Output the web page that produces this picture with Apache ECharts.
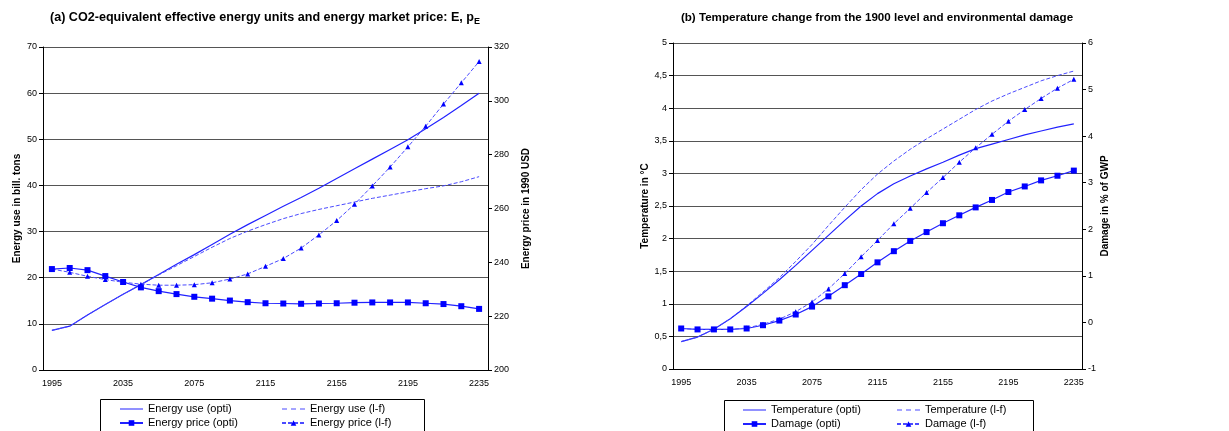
<!DOCTYPE html>
<html>
<head>
<meta charset="utf-8">
<script src="https://cdn.jsdelivr.net/npm/echarts@6/dist/echarts.min.js"></script>
<style>
  html, body { margin: 0; padding: 0; background: #fff; }
  #chart { width: 1229px; height: 431px; }
</style>
</head>
<body>
<div id="chart"></div>
<script>
// Decade steps on the shared time axis
const years = ['1995', '2005', '2015', '2025', '2035', '2045', '2055', '2065', '2075', '2085',
  '2095', '2105', '2115', '2125', '2135', '2145', '2155', '2165', '2175', '2185',
  '2195', '2205', '2215', '2225', '2235'];

// (a) energy use, bill. tons
const energyUseOpti = [8.6, 9.5, 11.9, 14.2, 16.4, 18.5, 20.7, 22.9, 25.0, 27.2,
  29.4, 31.5, 33.5, 35.5, 37.4, 39.4, 41.5, 43.6, 45.7, 47.8,
  49.9, 52.3, 54.7, 57.3, 60.0];
const energyUseLf = [8.6, 9.5, 11.9, 14.2, 16.4, 18.5, 20.6, 22.6, 24.6, 26.6,
  28.5, 30.1, 31.5, 32.8, 33.9, 34.8, 35.6, 36.4, 37.2, 37.9,
  38.6, 39.3, 39.9, 40.8, 41.9];

// (a) energy price, 1990 USD
const energyPriceOpti = [237.5, 237.9, 237.1, 234.9, 232.7, 230.7, 229.3, 228.2, 227.2, 226.5,
  225.8, 225.2, 224.8, 224.7, 224.6, 224.7, 224.8, 225.0, 225.1, 225.1,
  225.1, 224.8, 224.5, 223.7, 222.7];
const energyPriceLf = [237.5, 236.3, 234.8, 233.6, 232.6, 231.9, 231.5, 231.5, 231.7, 232.4,
  233.8, 235.7, 238.5, 241.4, 245.3, 250.2, 255.5, 261.6, 268.4, 275.4,
  282.9, 290.6, 298.8, 306.7, 314.6];

// (b) temperature change from 1900, °C
const temperatureOpti = [0.42, 0.49, 0.61, 0.77, 0.96, 1.16, 1.37, 1.59, 1.82, 2.05,
  2.28, 2.50, 2.69, 2.84, 2.96, 3.07, 3.17, 3.28, 3.38, 3.45,
  3.52, 3.59, 3.65, 3.71, 3.76];
const temperatureLf = [0.42, 0.49, 0.61, 0.77, 0.97, 1.18, 1.40, 1.65, 1.91, 2.20,
  2.48, 2.75, 2.99, 3.19, 3.37, 3.53, 3.68, 3.83, 3.98, 4.11,
  4.22, 4.32, 4.42, 4.50, 4.57];

// (b) damage, % of GWP
const damageOpti = [-0.13, -0.15, -0.15, -0.15, -0.13, -0.06, 0.04, 0.17, 0.34, 0.56,
  0.80, 1.04, 1.29, 1.53, 1.75, 1.94, 2.13, 2.30, 2.47, 2.63,
  2.80, 2.92, 3.05, 3.15, 3.26];
const damageLf = [-0.13, -0.15, -0.15, -0.15, -0.12, -0.04, 0.07, 0.23, 0.44, 0.72,
  1.05, 1.41, 1.76, 2.12, 2.45, 2.79, 3.11, 3.44, 3.75, 4.04,
  4.32, 4.57, 4.81, 5.03, 5.22];

const FONT = 'Liberation Sans, Arial, sans-serif';
const LINE = '#2222ff';
const DASH = '#4a4aff';
const MARK = '#0000ff';
const GRID_LINE = '#555';

function xAxis(gridIndex) {
  return {
    type: 'category', gridIndex, data: years, boundaryGap: true,
    axisLine: { lineStyle: { color: '#000', width: 1 } },
    axisTick: { interval: 0, length: 4, lineStyle: { color: '#000' } },
    axisLabel: { interval: 3, fontSize: 9, margin: 9, color: '#000', fontFamily: FONT },
    splitLine: { show: false }
  };
}

function yAxis(gridIndex, position, min, max, interval, name, nameGap, grid, fmt) {
  return {
    type: 'value', gridIndex, position, min, max, interval,
    name, nameLocation: 'middle', nameGap,
    nameTextStyle: { fontSize: 10, fontWeight: 'bold', color: '#000', fontFamily: FONT },
    axisLine: { show: true, lineStyle: { color: '#000', width: 1 } },
    axisTick: { show: true, length: 4, lineStyle: { color: '#000' } },
    axisLabel: { fontSize: 9, margin: 6, color: '#000', fontFamily: FONT, formatter: fmt },
    splitLine: { show: grid, lineStyle: { color: GRID_LINE, width: 1 } }
  };
}

function lineSeries(name, data, xi, yi, opts) {
  return Object.assign({
    name, type: 'line', data, xAxisIndex: xi, yAxisIndex: yi,
    symbol: 'none', smooth: false, animation: false,
    lineStyle: { color: LINE, width: 1.2 },
    itemStyle: { color: MARK }
  }, opts);
}

const dashed = { color: DASH, width: 1, type: [4, 2] };
const comma = v => String(v).replace('.', ',');

// Legend icons for the plain line entries (no marker)
const SOLID_ICON = 'path://M0,0h23v1h-23z';
const DASH_ICON = 'path://M0,0h5v1h-5zM9,0h5v1h-5zM18,0h5v1h-5z';

// One legend per entry, so the two columns line up like a table
function legendItem(name, left, top, icon, color) {
  const entry = icon ? { name, icon, itemStyle: { color } } : { name };
  return {
    left: icon ? left : left - 1, top, data: [entry], padding: 0,
    itemWidth: 23, itemHeight: icon ? 1.2 : 7, itemGap: 0,
    textStyle: { fontSize: 11, color: '#000', fontFamily: FONT, lineHeight: 14 },
    selectedMode: false
  };
}

const chart = echarts.init(document.getElementById('chart'), null, { renderer: 'canvas' });

chart.setOption({
  animation: false,
  backgroundColor: '#fff',
  title: [
    {
      text: '(a) CO2-equivalent effective energy units and energy market price: E, p{sub|E}',
      left: 265, top: 10, textAlign: 'center', padding: 0,
      textStyle: {
        fontSize: 12.6, fontWeight: 'bold', color: '#000', fontFamily: FONT, lineHeight: 16,
        rich: { sub: { fontSize: 9, fontWeight: 'bold', fontFamily: FONT, verticalAlign: 'bottom', lineHeight: 12, padding: [5, 0, 0, 0] } }
      }
    },
    {
      text: '(b) Temperature change from the 1900 level and environmental damage',
      left: 877, top: 10, textAlign: 'center', padding: 0,
      textStyle: { fontSize: 11.6, fontWeight: 'bold', color: '#000', fontFamily: FONT, lineHeight: 15 }
    }
  ],
  grid: [
    { left: 43, top: 47, width: 445, height: 323 },
    { left: 673, top: 43, width: 409, height: 326 }
  ],
  xAxis: [xAxis(0), xAxis(1)],
  yAxis: [
    yAxis(0, 'left', 0, 70, 10, 'Energy use in bill. tons', 21, true),
    yAxis(0, 'right', 200, 320, 20, 'Energy price in 1990 USD', 33, false),
    yAxis(1, 'left', 0, 5, 0.5, 'Temperature in °C', 17, true, comma),
    yAxis(1, 'right', -1, 6, 1, 'Damage in % of GWP', 16, false)
  ],
  legend: [
    legendItem('Energy use (opti)', 120, 402, SOLID_ICON, LINE),
    legendItem('Energy price (opti)', 120, 416),
    legendItem('Energy use (l-f)', 282, 402, DASH_ICON, DASH),
    legendItem('Energy price (l-f)', 282, 416),
    legendItem('Temperature (opti)', 743, 403, SOLID_ICON, LINE),
    legendItem('Damage (opti)', 743, 417),
    legendItem('Temperature (l-f)', 897, 403, DASH_ICON, DASH),
    legendItem('Damage (l-f)', 897, 417)
  ],
  graphic: [
    { type: 'rect', shape: { x: 100.5, y: 399.5, width: 324, height: 40 },
      style: { fill: 'none', stroke: '#000', lineWidth: 1 }, silent: true },
    { type: 'rect', shape: { x: 724.5, y: 400.5, width: 309, height: 40 },
      style: { fill: 'none', stroke: '#000', lineWidth: 1 }, silent: true }
  ],
  series: [
    lineSeries('Energy use (opti)', energyUseOpti, 0, 0),
    lineSeries('Energy use (l-f)', energyUseLf, 0, 0, { lineStyle: dashed }),
    lineSeries('Energy price (opti)', energyPriceOpti, 0, 1, { symbol: 'rect', symbolSize: 6, showSymbol: true }),
    lineSeries('Energy price (l-f)', energyPriceLf, 0, 1, { symbol: 'triangle', symbolSize: 5, showSymbol: true, lineStyle: dashed }),
    lineSeries('Temperature (opti)', temperatureOpti, 1, 2),
    lineSeries('Temperature (l-f)', temperatureLf, 1, 2, { lineStyle: dashed }),
    lineSeries('Damage (opti)', damageOpti, 1, 3, { symbol: 'rect', symbolSize: 6, showSymbol: true }),
    lineSeries('Damage (l-f)', damageLf, 1, 3, { symbol: 'triangle', symbolSize: 5, showSymbol: true, lineStyle: dashed })
  ]
});
</script>
</body>
</html>
